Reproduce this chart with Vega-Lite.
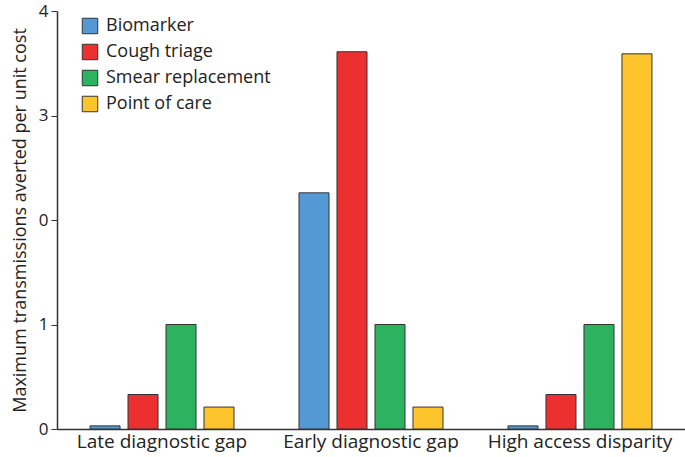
{
  "$schema": "https://vega.github.io/schema/vega-lite/v6.json",
  "autosize": "none",
  "width": 628,
  "height": 418,
  "padding": {"left": 57, "top": 11, "right": 0, "bottom": 28},
  "background": "white",
  "config": {"view": {"stroke": null}, "font": "Open Sans"},
  "data": {
    "values": [
      {"scenario": "Late diagnostic gap", "test": "Biomarker", "value": 0.03},
      {"scenario": "Late diagnostic gap", "test": "Cough triage", "value": 0.33},
      {"scenario": "Late diagnostic gap", "test": "Smear replacement", "value": 1.0},
      {"scenario": "Late diagnostic gap", "test": "Point of care", "value": 0.21},
      {"scenario": "Early diagnostic gap", "test": "Biomarker", "value": 2.26},
      {"scenario": "Early diagnostic gap", "test": "Cough triage", "value": 3.61},
      {"scenario": "Early diagnostic gap", "test": "Smear replacement", "value": 1.0},
      {"scenario": "Early diagnostic gap", "test": "Point of care", "value": 0.21},
      {"scenario": "High access disparity", "test": "Biomarker", "value": 0.03},
      {"scenario": "High access disparity", "test": "Cough triage", "value": 0.33},
      {"scenario": "High access disparity", "test": "Smear replacement", "value": 1.0},
      {"scenario": "High access disparity", "test": "Point of care", "value": 3.59}
    ]
  },
  "mark": {"type": "bar", "stroke": "#333333", "strokeWidth": 1, "opacity": 1},
  "encoding": {
    "x": {
      "field": "scenario",
      "type": "nominal",
      "sort": ["Late diagnostic gap", "Early diagnostic gap", "High access disparity"],
      "scale": {"paddingInner": 0.311, "paddingOuter": 0.158, "align": 0.5},
      "axis": {
        "title": null,
        "labelAngle": 0,
        "ticks": false,
        "labelFontSize": 19,
        "labelColor": "#222222",
        "labelPadding": 3,
        "labelLimit": 300,
        "domainColor": "#333333",
        "domainWidth": 1.5
      }
    },
    "xOffset": {
      "field": "test",
      "sort": ["Biomarker", "Cough triage", "Smear replacement", "Point of care"],
      "scale": {"paddingInner": 0.21, "paddingOuter": 0}
    },
    "y": {
      "field": "value",
      "type": "quantitative",
      "scale": {"domain": [0, 4], "nice": false},
      "axis": {
        "title": "Maximum transmissions averted per unit cost",
        "titleFontSize": 18,
        "titleFontWeight": "normal",
        "titleColor": "#222222",
        "titlePadding": 9,
        "values": [0, 1, 2, 3, 4],
        "labelExpr": "datum.value == 2 ? '0' : datum.label",
        "labelFontSize": 17,
        "labelColor": "#222222",
        "labelPadding": 3,
        "tickSize": 6,
        "tickColor": "#333333",
        "domainColor": "#333333",
        "domainWidth": 1.5,
        "grid": false
      }
    },
    "fill": {
      "field": "test",
      "type": "nominal",
      "sort": ["Biomarker", "Cough triage", "Smear replacement", "Point of care"],
      "scale": {
        "domain": ["Biomarker", "Cough triage", "Smear replacement", "Point of care"],
        "range": ["#5499d4", "#ec2f2f", "#2db360", "#fdc52b"]
      },
      "legend": {
        "title": null,
        "orient": "none",
        "legendX": 24,
        "legendY": 6,
        "symbolType": "square",
        "symbolSize": 240,
        "symbolStrokeColor": "#333333",
        "symbolStrokeWidth": 1,
        "symbolOpacity": 1,
        "labelFontSize": 18,
        "labelLimit": 300,
        "labelColor": "#222222",
        "labelOffset": 7,
        "rowPadding": 6
      }
    }
  }
}
